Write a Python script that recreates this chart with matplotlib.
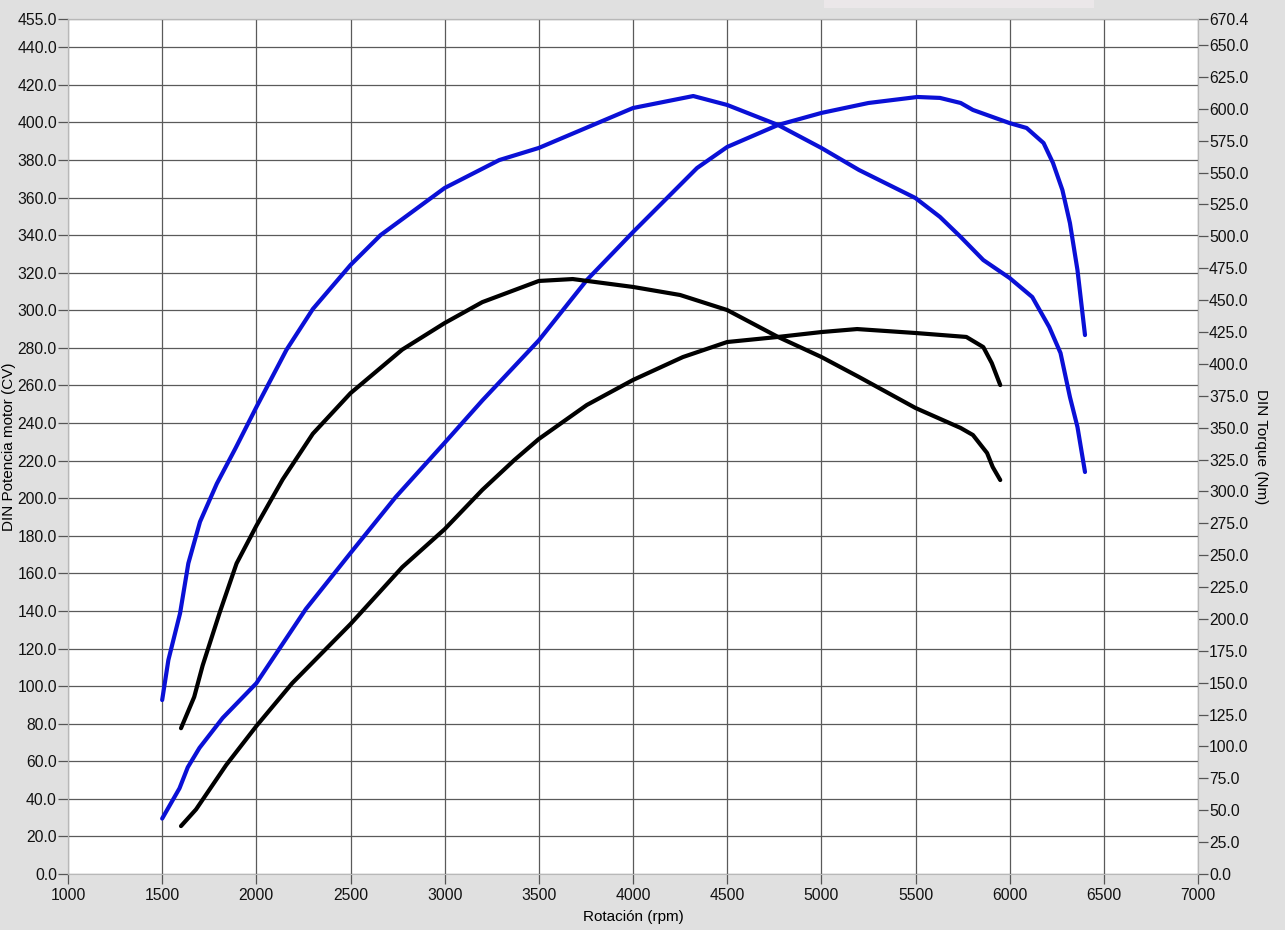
import matplotlib
matplotlib.use("Agg")
import matplotlib.pyplot as plt
from matplotlib.patches import Rectangle

plt.rcParams['font.family'] = ['Liberation Sans', 'DejaVu Sans']

# ---- data ----
# Blue torque (Nm, right axis)
rpm_tq_blue = [1500, 1533, 1595, 1639, 1701, 1790, 1890, 2000, 2160, 2300, 2500, 2660,
               3000, 3290, 3500, 4000, 4320, 4500, 4770, 5000, 5200, 5500, 5630, 5740,
               5860, 6000, 6120, 6210, 6270, 6320, 6360, 6400]
tq_blue = [136.4, 167.8, 204.4, 243.6, 276.2, 306.0, 334.0, 366.0, 411.0, 443.0, 477.5, 501.0,
           537.9, 559.8, 569.3, 600.6, 610.0, 603.0, 587.3, 569.3, 552.0, 530.0, 515.2, 499.5,
           481.4, 467.3, 452.4, 428.9, 408.5, 374.0, 350.5, 315.2]

# Blue power (CV, left axis)
rpm_pw_blue = [1500, 1592, 1636, 1698, 1821, 2000, 2263, 2500, 2740, 3000, 3200, 3500,
               3755, 4000, 4340, 4500, 4770, 5000, 5250, 5510, 5630, 5740, 5805, 6000,
               6090, 6180, 6230, 6280, 6320, 6360, 6400]
pw_blue = [29.5, 45.6, 56.8, 67.1, 83.0, 101.5, 141.0, 170.8, 200.6, 229.5, 252.0, 284.0,
           316.1, 341.6, 375.7, 386.9, 398.6, 405.0, 410.3, 413.5, 413.0, 410.3, 406.6, 399.6,
           397.0, 389.0, 378.4, 364.0, 346.4, 321.4, 286.8]

# Black torque (Nm, right axis)
rpm_tq_black = [1600, 1670, 1715, 1805, 1895, 2000, 2140, 2300, 2500, 2775, 3000, 3200,
                3500, 3680, 4000, 4250, 4500, 4770, 5000, 5200, 5500, 5740, 5805, 5880,
                5910, 5950]
tq_black = [114.3, 138.8, 163.5, 204.8, 243.5, 273.0, 309.4, 345.2, 377.0, 411.2, 432.0, 448.4,
            465.0, 466.5, 460.3, 454.0, 442.2, 421.1, 405.4, 389.7, 365.4, 349.7, 344.2, 330.1,
            319.1, 308.9]

# Black power (CV, left axis)
rpm_pw_black = [1600, 1680, 1840, 2000, 2190, 2500, 2775, 3000, 3200, 3370, 3500, 3755,
                4000, 4265, 4500, 4770, 5000, 5190, 5500, 5770, 5860, 5905, 5950]
pw_black = [25.5, 34.4, 58.0, 78.7, 101.5, 133.0, 163.3, 183.5, 204.4, 220.3, 231.5, 249.6,
            262.9, 275.1, 283.1, 285.8, 288.4, 290.0, 287.9, 285.8, 280.4, 271.9, 260.2]

x_ticks = list(range(1000, 7001, 500))
left_ticks = list(range(0, 441, 20)) + [455]
right_ticks = [v * 25.0 for v in range(0, 27)] + [670.4]

BLUE = '#0a10d6'
BG = '#e0e0e0'
GRID = '#5a5a5a'
TICK_FS = 11.3
LABEL_FS = 11.0

fig = plt.figure(figsize=(12.85, 9.3), dpi=100)
fig.patch.set_facecolor(BG)
ax = fig.add_axes([68 / 1285, 1 - 874 / 930, 1130 / 1285, 855 / 930])
ax.set_facecolor('white')
ax2 = ax.twinx()

ax.set_xlim(1000, 7000)
ax.set_ylim(0, 455)
ax2.set_ylim(0, 670.4)

ax.set_xticks(x_ticks)
ax.set_xticklabels([str(t) for t in x_ticks])
ax.set_yticks(left_ticks)
ax.set_yticklabels([f"{t:.1f}" for t in left_ticks])
ax2.set_yticks(right_ticks)
ax2.set_yticklabels([f"{t:.1f}" for t in right_ticks])

ax.grid(True, color=GRID, linewidth=0.9)
ax.set_axisbelow(True)

for a in (ax, ax2):
    for s in a.spines.values():
        s.set_color('#b8b8b8')
        s.set_linewidth(0.8)
ax.spines['bottom'].set_visible(False)

ax.tick_params(axis='both', which='major', labelsize=TICK_FS, colors='#555555',
               labelcolor='#111111', length=7, width=0.9, pad=1)
ax.tick_params(axis='x', pad=3)
ax2.tick_params(axis='y', labelsize=TICK_FS, colors='#555555', labelcolor='#111111',
                length=7, width=0.9, pad=1)

kw = dict(lw=3.0, solid_capstyle='round', solid_joinstyle='round', zorder=3)
ax.plot(rpm_pw_blue, pw_blue, color=BLUE, **kw)
ax.plot(rpm_pw_black, pw_black, color='black', **kw)
ax2.plot(rpm_tq_blue, tq_blue, color=BLUE, **kw)
ax2.plot(rpm_tq_black, tq_black, color='black', **kw)

ax.set_xlabel('Rotación (rpm)', fontsize=LABEL_FS, labelpad=5)
ax.set_ylabel('DIN Potencia motor (CV)', fontsize=LABEL_FS, labelpad=1)
ax2.set_ylabel('DIN Torque (Nm)', fontsize=LABEL_FS, rotation=-90, labelpad=14)

fig.patches.append(Rectangle((824 / 1285, 1 - 8 / 930), 270 / 1285, 8 / 930,
                             transform=fig.transFigure, facecolor='#ebe7e9',
                             edgecolor='none'))

fig.savefig('out.png', dpi=100, facecolor=BG)
